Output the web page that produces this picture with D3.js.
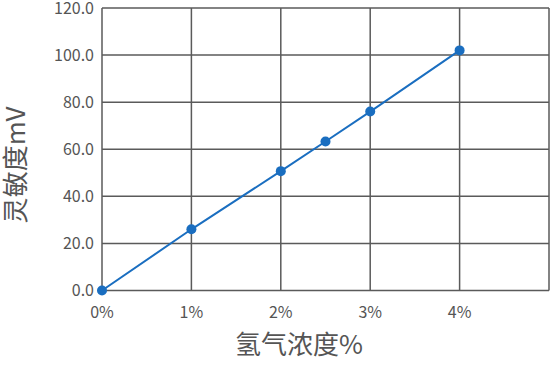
<!DOCTYPE html>
<html><head><meta charset="utf-8">
<script src="https://cdn.jsdelivr.net/npm/d3@7"></script>
<style>body{margin:0;background:#fff}svg{display:block}</style>
</head><body>
<svg id="c" width="550" height="382"></svg>
<script>
const xValues = [0, 1, 2, 2.5, 3, 4];
const yValues = [0, 26.0, 50.7, 63.3, 76.0, 102.0];
const xTicks = [0, 1, 2, 3, 4, 5];
const xTickLabels = ["0%", "1%", "2%", "3%", "4%", ""];
const yTicks = [0, 20, 40, 60, 80, 100, 120];
const xTitle = "氢气浓度%";
const yTitle = "灵敏度mV";

const svg = d3.select("#c");
const font = "'Noto Sans CJK SC','Noto Sans',sans-serif";
const L = 102, R = 549, T = 8, B = 290.5;
const x = d3.scaleLinear().domain([0, 5]).range([L, R]);
const y = d3.scaleLinear().domain([0, 120]).range([B, T]);
const grid = "#5a5a5a";

svg.append("g").selectAll("line").data(xTicks).join("line")
  .attr("x1", d => x(d)).attr("x2", d => x(d)).attr("y1", T).attr("y2", B)
  .attr("stroke", grid).attr("stroke-width", 1.5);
svg.append("g").selectAll("line").data(yTicks).join("line")
  .attr("x1", L).attr("x2", R).attr("y1", d => y(d)).attr("y2", d => y(d))
  .attr("stroke", grid).attr("stroke-width", 1.5);

svg.append("g").selectAll("text").data(yTicks).join("text")
  .attr("x", L - 8).attr("y", d => y(d)).attr("dy", "0.36em")
  .attr("text-anchor", "end").attr("font-family", font).attr("font-size", 16)
  .attr("fill", "#555").text(d => d.toFixed(1));
svg.append("g").selectAll("text").data(xTicks).join("text")
  .attr("x", d => x(d)).attr("y", B + 27)
  .attr("text-anchor", "middle").attr("font-family", font).attr("font-size", 16)
  .attr("fill", "#555").text((d, i) => xTickLabels[i]);

const pts = xValues.map((v, i) => [v, yValues[i]]);
svg.append("path").datum(pts)
  .attr("d", d3.line().x(d => x(d[0])).y(d => y(d[1])))
  .attr("fill", "none").attr("stroke", "#1a6ec0").attr("stroke-width", 2);
svg.append("g").selectAll("circle").data(pts).join("circle")
  .attr("cx", d => x(d[0])).attr("cy", d => y(d[1])).attr("r", 5)
  .attr("fill", "#1a6ec0");

svg.append("text").attr("x", 299).attr("y", 354).attr("text-anchor", "middle")
  .attr("font-family", font).attr("font-size", 26).attr("fill", "#555").text(xTitle);
svg.append("text").attr("transform", "translate(15,165) rotate(-90)")
  .attr("text-anchor", "middle").attr("dy", "0.38em").attr("font-family", font).attr("font-size", 26)
  .attr("fill", "#555").text(yTitle);
</script>
</body></html>
